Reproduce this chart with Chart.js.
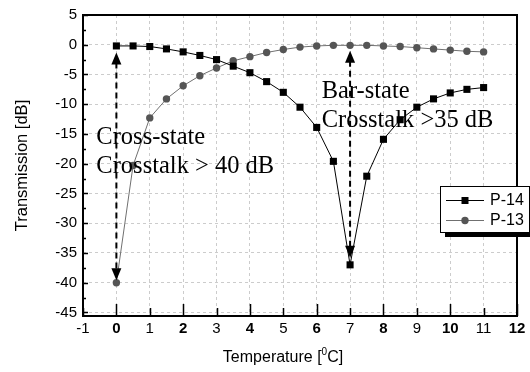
<!DOCTYPE html>
<html>
<head>
<meta charset="utf-8">
<script src="https://cdn.jsdelivr.net/npm/chart.js@4.4.0/dist/chart.umd.min.js"></script>
<style>
  html, body { margin: 0; padding: 0; background: #fff; }
  #wrap { width: 530px; height: 372px; }
</style>
</head>
<body>
<div id="wrap"><canvas id="chart" width="530" height="372"></canvas></div>
<script>
// Temperature steps (deg C)
const temps = [0, 0.5, 1, 1.5, 2, 2.5, 3, 3.5, 4, 4.5, 5, 5.5, 6, 6.5, 7, 7.5, 8, 8.5, 9, 9.5, 10, 10.5, 11];
// Transmission [dB]
const p14 = [-0.2, -0.2, -0.3, -0.7, -1.2, -1.8, -2.5, -3.6, -4.7, -6.2, -8.0, -10.5, -13.9, -19.6, -37.0, -22.1, -15.9, -12.6, -10.5, -9.1, -8.1, -7.5, -7.2];
const p13 = [-40.0, -20.3, -12.3, -9.1, -6.9, -5.2, -3.9, -2.7, -2.0, -1.3, -0.8, -0.4, -0.2, -0.1, -0.1, -0.1, -0.2, -0.3, -0.5, -0.7, -0.9, -1.1, -1.2];

// y tick labels
const yTicks = [5, 0, -5, -10, -15, -20, -25, -30, -35, -40, -45];

// dashed double arrows
const arrowX = [0, 7];
const arrowTop = [-1.3, -1.0];
const arrowBottom = [-39.6, -35.8];

// text notes
const noteLines = [['Cross-state', 'Crosstalk > 40 dB'], ['Bar-state', 'Crosstalk >35 dB']];
const noteX = [-0.6, 6.15];
const noteY = [-15.6, -7.9];

const xMin = -1, xMax = 12;
const yMin = -45.6, yMax = 5;

function toPoints(ys) {
    return temps.map((t, i) => ({ x: t, y: ys[i] }));
}

const sansFont = "'Liberation Sans', Arial, sans-serif";

// frame, inward ticks, arrows, notes, legend, x title
const decorPlugin = {
    id: 'decor',
    afterDraw(chart) {
        const ctx = chart.ctx;
        const area = chart.chartArea;
        const xs = chart.scales.x;
        const ys = chart.scales.y;
        ctx.save();

        // arrows
        ctx.strokeStyle = '#000';
        ctx.fillStyle = '#000';
        arrowX.forEach((ax, i) => {
            const px = xs.getPixelForValue(ax);
            const top = ys.getPixelForValue(arrowTop[i]);
            const bot = ys.getPixelForValue(arrowBottom[i]);
            ctx.lineWidth = 2;
            ctx.setLineDash([6, 4]);
            ctx.beginPath();
            ctx.moveTo(px, top + 10);
            ctx.lineTo(px, bot - 10);
            ctx.stroke();
            ctx.setLineDash([]);
            ctx.beginPath();
            ctx.moveTo(px, top);
            ctx.lineTo(px - 5, top + 12);
            ctx.lineTo(px + 5, top + 12);
            ctx.closePath();
            ctx.fill();
            ctx.beginPath();
            ctx.moveTo(px, bot);
            ctx.lineTo(px - 5, bot - 12);
            ctx.lineTo(px + 5, bot - 12);
            ctx.closePath();
            ctx.fill();
        });

        // notes
        ctx.font = "24.5px 'Liberation Serif', 'Times New Roman', serif";
        ctx.textAlign = 'left';
        ctx.textBaseline = 'middle';
        noteLines.forEach((lines, i) => {
            const px = xs.getPixelForValue(noteX[i]);
            const py = ys.getPixelForValue(noteY[i]);
            lines.forEach((s, j) => ctx.fillText(s, px, py + j * 29));
        });

        // frame
        ctx.lineWidth = 2;
        ctx.strokeStyle = '#000';
        ctx.strokeRect(area.left, area.top, area.right - area.left, area.bottom - area.top);

        // inward ticks on x axis
        ctx.lineWidth = 1.5;
        ctx.beginPath();
        for (let v = xMin; v <= xMax; v++) {
            const px = Math.round(xs.getPixelForValue(v)) + 0.5;
            const len = v % 2 === 0 ? 12 : 8;
            ctx.moveTo(px, area.bottom);
            ctx.lineTo(px, area.bottom - len);
        }
        // inward ticks on y axis
        for (let v = -45; v <= yMax; v += 2.5) {
            const py = Math.round(ys.getPixelForValue(v)) + 0.5;
            const len = v % 5 === 0 ? 5 : 3;
            ctx.moveTo(area.left, py);
            ctx.lineTo(area.left + len, py);
        }
        ctx.stroke();

        // legend
        const lx = area.right - 77, ly = area.top + 171, lw = 89, lh = 46;
        ctx.fillStyle = '#000';
        ctx.fillRect(lx + 5, ly + 5, lw, lh);
        ctx.fillStyle = '#fff';
        ctx.fillRect(lx, ly, lw, lh);
        ctx.lineWidth = 1;
        ctx.strokeStyle = '#000';
        ctx.strokeRect(lx + 0.5, ly + 0.5, lw, lh);
        ctx.font = '16px ' + sansFont;
        ctx.textBaseline = 'middle';
        chart.data.datasets.forEach((ds, i) => {
            const cy = ly + 14 + i * 20;
            ctx.strokeStyle = ds.borderColor;
            ctx.lineWidth = 1;
            ctx.beginPath();
            ctx.moveTo(lx + 6, cy + 0.5);
            ctx.lineTo(lx + 44, cy + 0.5);
            ctx.stroke();
            ctx.fillStyle = ds.pointBackgroundColor;
            if (ds.pointStyle === 'rect') {
                ctx.fillRect(lx + 21.5, cy - 3, 7, 7);
            } else {
                ctx.beginPath();
                ctx.arc(lx + 25, cy + 0.5, 3.7, 0, Math.PI * 2);
                ctx.fill();
            }
            ctx.fillStyle = '#000';
            ctx.fillText(ds.label, lx + 50, cy + 1);
        });

        // x title with superscript
        ctx.fillStyle = '#000';
        ctx.textBaseline = 'alphabetic';
        ctx.font = '16px ' + sansFont;
        const t1 = 'Temperature [', t2 = '0', t3 = 'C]';
        const supFont = '10px ' + sansFont;
        const w1 = ctx.measureText(t1).width;
        const w3 = ctx.measureText(t3).width;
        ctx.font = supFont;
        const w2 = ctx.measureText(t2).width;
        const total = w1 + w2 + w3;
        let tx = 283 - total / 2;
        const base = 362;
        ctx.font = '16px ' + sansFont;
        ctx.fillText(t1, tx, base);
        ctx.font = supFont;
        ctx.fillText(t2, tx + w1, base - 7);
        ctx.font = '16px ' + sansFont;
        ctx.fillText(t3, tx + w1 + w2, base);

        ctx.restore();
    }
};

const config = {
    type: 'line',
    data: {
        datasets: [{
            label: 'P-14',
            data: toPoints(p14),
            borderColor: '#000',
            borderWidth: 1,
            pointStyle: 'rect',
            pointRadius: 5,
            pointBackgroundColor: '#000',
            pointBorderWidth: 0,
            tension: 0,
            order: 1
        }, {
            label: 'P-13',
            data: toPoints(p13),
            borderColor: '#707070',
            borderWidth: 1,
            pointStyle: 'circle',
            pointRadius: 3.7,
            pointBackgroundColor: '#555',
            pointBorderWidth: 0,
            tension: 0,
            order: 2
        }]
    },
    options: {
        responsive: false,
        animation: false,
        layout: { padding: { top: 13, right: 13, left: 0, bottom: 0 } },
        plugins: {
            legend: { display: false },
            tooltip: { enabled: false }
        },
        scales: {
            x: {
                type: 'linear',
                min: xMin,
                max: xMax,
                afterFit(scale) { scale.height = 56; },
                ticks: {
                    stepSize: 1,
                    padding: 4,
                    color: '#000',
                    font: (c) => ({
                        family: sansFont,
                        size: 15,
                        weight: c.tick && c.tick.value % 2 === 0 ? 'bold' : 'normal'
                    })
                },
                grid: { color: '#cccccc', lineWidth: 1, drawTicks: false },
                border: { display: false, dash: [3, 3] }
            },
            y: {
                type: 'linear',
                min: yMin,
                max: yMax,
                afterFit(scale) { scale.width = 83; },
                afterBuildTicks(scale) {
                    scale.ticks = yTicks.map(v => ({ value: v }));
                },
                ticks: {
                    padding: 6,
                    color: '#000',
                    font: { family: sansFont, size: 15 }
                },
                grid: { color: '#cccccc', lineWidth: 1, drawTicks: false },
                border: { display: false, dash: [3, 3] },
                title: {
                    display: true,
                    text: 'Transmission [dB]',
                    color: '#000',
                    font: { family: sansFont, size: 16.5 },
                    padding: { top: 13, bottom: 0 }
                }
            }
        }
    },
    plugins: [decorPlugin]
};

new Chart(document.getElementById('chart'), config);
</script>
</body>
</html>
